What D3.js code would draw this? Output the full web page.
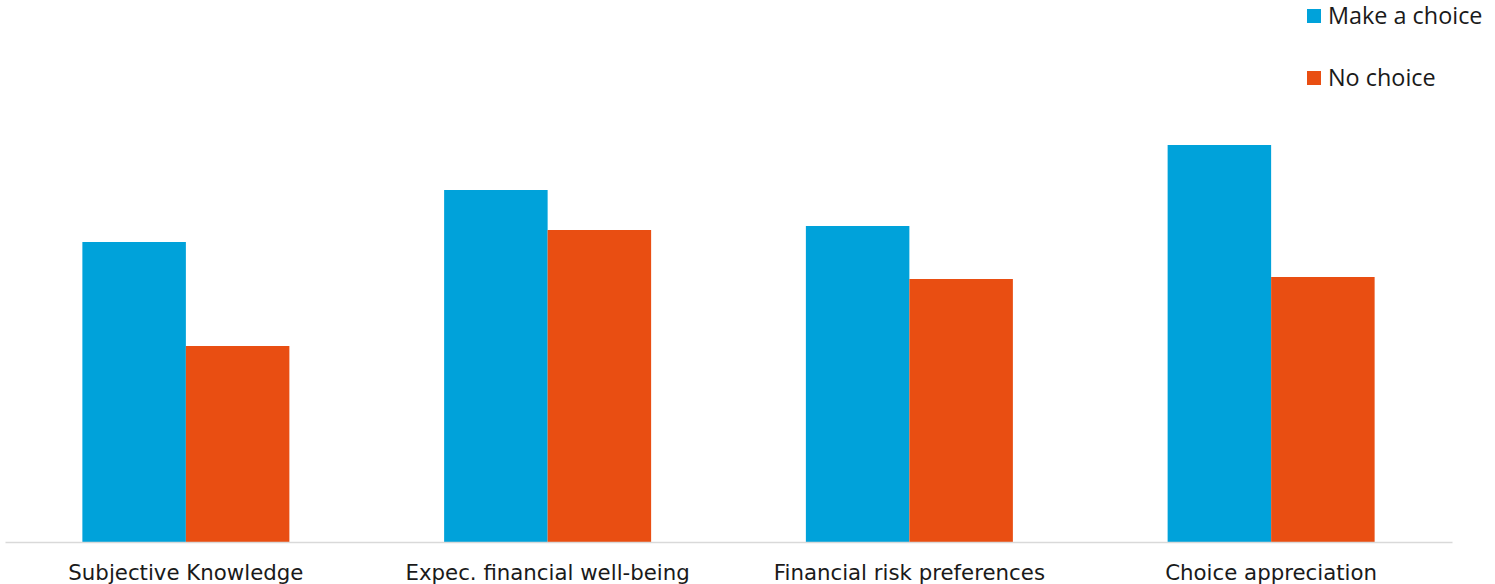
<!DOCTYPE html>
<html>
<head>
<meta charset="utf-8">
<script src="https://cdn.jsdelivr.net/npm/d3@7"></script>
<style>
  html, body { margin: 0; padding: 0; background: #ffffff; }
  svg { display: block; }
</style>
</head>
<body>
<svg id="chart" width="1495" height="584"></svg>
<script>
const categories = ["Subjective Knowledge", "Expec. financial well-being", "Financial risk preferences", "Choice appreciation"];
const seriesNames = ["Make a choice", "No choice"];
const makeChoice = [3.00, 3.52, 3.16, 3.97];
const noChoice = [1.96, 3.12, 2.63, 2.65];
const colors = ["#00A2DA", "#E94E12"];

const svg = d3.select("#chart");
const W = 1495, H = 584;
const left = 5, right = 1452, base = 542;

const x = d3.scaleBand().domain(categories).range([left, right]).paddingInner(0).paddingOuter(0);
const groupW = 207;
const x1 = d3.scaleBand().domain(seriesNames).range([0, groupW]).padding(0);
const y = d3.scaleLinear().domain([0, 5]).range([base, base - 500]);

const data = categories.map((c, i) => ({ cat: c, vals: [makeChoice[i], noChoice[i]] }));

const g = svg.append("g");
data.forEach(d => {
  const gx = x(d.cat) + (x.bandwidth() - groupW) / 2;
  d.vals.forEach((v, j) => {
    g.append("rect")
      .attr("x", gx + x1(seriesNames[j]))
      .attr("y", y(v))
      .attr("width", x1.bandwidth())
      .attr("height", y(0) - y(v))
      .attr("fill", colors[j]);
  });
});

// axis
const axis = d3.axisBottom(x).tickSize(0).tickPadding(0);
const ax = svg.append("g").attr("transform", `translate(0,${base})`).call(axis);
ax.select(".domain").attr("stroke", "#d9d9d9").attr("stroke-width", 1.5);
ax.selectAll(".tick text")
  .attr("y", 37.5)
  .attr("dy", 0)
  .attr("fill", "#1a1a1a")
  .style("font-family", "'DejaVu Sans', Verdana, sans-serif")
  .style("font-size", "21.3px");

// legend
const legend = svg.append("g");
seriesNames.forEach((s, i) => {
  const ly = 9 + i * 62;
  legend.append("rect").attr("x", 1307).attr("y", ly).attr("width", 14).attr("height", 14).attr("fill", colors[i]);
  legend.append("text").attr("x", 1328).attr("y", ly + 15)
    .attr("fill", "#1a1a1a")
    .style("font-family", "'Open Sans', sans-serif")
    .style("font-size", "23.4px")
    .text(s);
});
</script>
</body>
</html>
